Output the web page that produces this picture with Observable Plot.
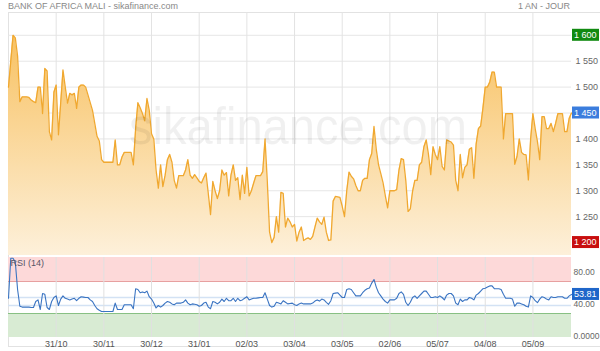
<!DOCTYPE html>
<html><head><meta charset="utf-8">
<script src="https://cdn.jsdelivr.net/npm/d3@7"></script>
<script src="https://cdn.jsdelivr.net/npm/@observablehq/plot@0.6"></script>
<style>
body{margin:0;background:#fff;font-family:"Liberation Sans",Arial,sans-serif;}
#wrap{position:relative;width:600px;height:351px;overflow:hidden;background:#fff;}
#title{position:absolute;left:8px;top:1px;font-size:9px;color:#888;}
#period{position:absolute;right:30px;top:1px;font-size:9px;color:#888;}
#frame{position:absolute;left:8px;top:12px;width:592px;height:335px;border-left:1px solid #e2e2e2;border-top:1px solid #e2e2e2;border-bottom:1px solid #e2e2e2;box-sizing:border-box;}
#price{position:absolute;left:0;top:0;}
#rsi{position:absolute;left:0;top:256px;}
</style></head><body>
<div id="wrap">
<div id="frame"></div>
<div id="price"></div><div id="rsi"></div>
<div id="title">BANK OF AFRICA MALI - sikafinance.com</div>
<div id="period">1 AN - JOUR</div>
</div>
<script>
// Daily closing prices (one per trading day, 249 days)
const prices = [1500,1550,1600,1595,1560,1472,1481,1481,1481,1480,
 1475,1472,1470,1500,1500,1449,1536,1531,1414,1398,
 1490,1504,1408,1470,1533,1500,1469,1488,1485,1488,
 1459,1500,1504,1504,1500,1485,1470,1455,1430,1405,
 1396,1360,1355,1355,1355,1355,1355,1398,1350,1350,
 1365,1374,1374,1374,1374,1350,1420,1470,1460,1449,
 1435,1478,1455,1410,1400,1340,1305,1350,1308,1330,
 1360,1370,1355,1320,1305,1329,1329,1329,1340,1360,
 1330,1324,1331,1325,1318,1315,1325,1334,1295,1254,
 1318,1300,1285,1300,1340,1330,1335,1290,1330,1350,
 1320,1325,1283,1330,1295,1345,1290,1300,1315,1329,
 1329,1329,1337,1400,1318,1220,1200,1210,1250,1220,
 1297,1295,1230,1247,1240,1230,1235,1203,1220,1230,
 1204,1207,1209,1206,1212,1230,1247,1240,1235,1249,
 1220,1204,1205,1280,1289,1288,1287,1270,1250,1300,
 1336,1328,1323,1310,1300,1300,1320,1324,1324,1360,
 1372,1424,1380,1350,1333,1315,1290,1267,1300,1300,
 1300,1302,1340,1362,1360,1320,1260,1265,1299,1320,
 1320,1350,1355,1385,1398,1370,1331,1385,1370,1360,
 1385,1347,1340,1398,1396,1394,1388,1320,1300,1370,
 1325,1345,1350,1380,1383,1324,1390,1420,1425,1460,
 1500,1500,1510,1529,1529,1500,1500,1500,1400,1449,
 1449,1449,1449,1351,1366,1400,1374,1370,1369,1321,
 1400,1449,1420,1395,1360,1443,1443,1420,1420,1430,
 1414,1430,1449,1449,1449,1414,1414,1440,1450];

// RSI (14) values, one per trading day
const rsiValues = [49,99,99,94,60,39,38,38,38,38,
 37.5,37.5,45,47,35,55,54,37.5,35,45,
 50,52,40,48,52,49,48,47,48,49,
 46,49,51,50.5,50,50,47,45,40,36,
 34,32.5,32.5,32.5,32.5,32.5,32.5,43,35,35,
 35,41,41,41,41,36,61,60,56,57,
 56,58,51,48,43,37,40,38,40,43,
 45,44,42,41,43,43,43,44,47,43,
 41,42,41.5,41,39,40,43,44,38,36,
 45,44,42,44,48,45,49,46,46,49,
 45,49,46,47,49,51,47,48,49,49,
 49.5,50,50,56,48,40,38,39,44,43,
 42,46,44,42,42.5,43,41,40,42,43,
 42,42,42,42,43,45.5,47,45.5,48,47,
 44,41.5,46,55,55.5,56,53,50,50,60,
 61,60,56,52,52,52,56,59,61,62,
 68,72.5,63,56,52,48,45,43,47,47,
 47,49,55,57,54,44,40,44,50,52,
 49,52,55,58,58,54,50,50,51,50,
 52,50,47,53,55,55,52,43,41,48,
 45,47,47,50,49,47,53,55,58,61,
 61.5,63,64.5,64.5,61,61,61,60,54,49,
 49,49,48,39,43,43,42,41,39,38,
 52,50,46,43.5,48,51,50,48,47,51,
 50,50,51,51,51,49,49,52,53.81];

// X-axis ticks (trading-day index) and their labels
const tickDays = [21,42,63,84,105,126,147,168,189,210,231];
const tickLabels = ["31/10","30/11","30/12","31/01","02/03","03/04","03/05","02/06","05/07","04/08","05/09"];

// Price axis
const priceGrid = [1200,1250,1300,1350,1400,1450,1500,1550,1600];
const priceDomain = [1175,1644];
// RSI axis
const rsiTicks = [0,40,80];
const rsiTickLabels = ["0.0000","40.00","80.00"];
const rsiOverbought = 70, rsiOversold = 30;
const rsiGuides = [40,50];

const N = prices.length;
const xDomain = [0, N - 1];
const xRange = [8, 571];
const data = prices.map((p, i) => ({d: i, p, r: rsiValues[i]}));

const fr = d3.formatLocale({decimal: ".", thousands: " ", grouping: [3], currency: ["", ""]});
const fmt = fr.format(",");

const last = prices[N - 1];
const badges = [
  {v: d3.max(prices), bg: "#118a11"},
  {v: last, bg: "#3b7ddd"},
  {v: d3.min(prices), bg: "#c80f0f"}
];
const badgeSet = new Set(badges.map(b => b.v));

function badgeMark(items, format) {
  return (index, scales, values, dims) => {
    const g = d3.create("svg:g").attr("text-anchor", "start");
    const x0 = dims.width - dims.marginRight + 1;
    for (const b of items) {
      const y = scales.y(b.v);
      g.append("rect").attr("x", x0).attr("y", y - 6).attr("width", 27).attr("height", 12).attr("fill", b.bg);
      g.append("text").attr("x", x0 + 2).attr("y", y).attr("dy", "0.35em")
        .attr("text-anchor", "start")
        .attr("fill", "#fff").attr("font-size", 9).attr("font-family", "Liberation Sans, Arial, sans-serif")
        .text(format(b.v));
    }
    return g.node();
  };
}

const gradDefs = () => {
  const defs = d3.create("svg:defs");
  const lg = defs.append("linearGradient").attr("id", "areaGrad").attr("x1", 0).attr("x2", 0).attr("y1", 0).attr("y2", 1);
  lg.append("stop").attr("offset", "0%").attr("stop-color", "#f8c263");
  lg.append("stop").attr("offset", "100%").attr("stop-color", "#fdf0da");
  return defs.node();
};

const watermark = () => {
  const t = d3.create("svg:text");
  t.attr("x", 298).attr("y", 144).attr("text-anchor", "middle")
   .attr("font-size", 52).attr("font-family", "Liberation Sans, Arial, sans-serif")
   .attr("fill", "#000").attr("fill-opacity", 0.06)
   .attr("textLength", 338).attr("lengthAdjust", "spacingAndGlyphs")
   .text("sikafinance.com");
  return t.node();
};

const pricePlot = Plot.plot({
  width: 600, height: 256,
  marginTop: 12, marginBottom: 1, marginLeft: 8, marginRight: 29,
  style: {fontSize: "9px", fontFamily: "Liberation Sans, Arial, sans-serif", color: "#666", background: "transparent", overflow: "visible"},
  x: {domain: xDomain, range: xRange, axis: null},
  y: {domain: priceDomain, range: [255, 12], axis: null},
  marks: [
    gradDefs,
    Plot.ruleY(priceGrid, {stroke: "#e6e6e6"}),
    Plot.ruleX(tickDays, {stroke: "#e3e3e3"}),
    Plot.areaY(data, {x: "d", y1: priceDomain[0], y2: "p", fill: "url(#areaGrad)"}),
    Plot.lineY(data, {x: "d", y: "p", stroke: "#f0a830", strokeWidth: 1.3}),
    watermark,
    Plot.axisY(priceGrid.filter(v => !badgeSet.has(v)), {anchor: "right", label: null, tickSize: 0, tickPadding: 4, tickFormat: fmt, fill: "#666", fontSize: 9}),
    badgeMark(badges, fmt)
  ]
});
document.getElementById("price").append(pricePlot);

const rsiPlot = Plot.plot({
  width: 600, height: 95,
  marginTop: 1, marginBottom: 14, marginLeft: 8, marginRight: 29,
  style: {fontSize: "9px", fontFamily: "Liberation Sans, Arial, sans-serif", color: "#666", background: "transparent", overflow: "visible"},
  x: {domain: xDomain, range: xRange},
  y: {domain: [0, 100], range: [81, 1], axis: null},
  marks: [
    Plot.rectY([{lo: rsiOverbought, hi: 100}], {y1: "lo", y2: "hi", fill: "#fdd9d9"}),
    Plot.rectY([{lo: 0, hi: rsiOversold}], {y1: "lo", y2: "hi", fill: "#d8ebd3"}),
    Plot.ruleY([rsiOverbought], {stroke: "#e7a0a0"}),
    Plot.ruleY([rsiOversold], {stroke: "#88c083"}),
    Plot.ruleY(rsiGuides, {stroke: "#d3e2f4", strokeWidth: 1.5}),
    Plot.ruleX(tickDays, {stroke: "#e0e0e0"}),
    Plot.lineY(data, {x: "d", y: "r", stroke: "#3a74c2", strokeWidth: 1.1}),
    Plot.text(["RSI (14)"], {frameAnchor: "top-left", dx: 2, dy: 2, fill: "#556", fontSize: 9, textAnchor: "start"}),
    Plot.axisX(tickDays, {label: null, tickSize: 0, tickPadding: 3, tickFormat: (d, i) => tickLabels[i], fill: "#555", fontSize: 9}),
    Plot.axisY(rsiTicks, {anchor: "right", label: null, tickSize: 0, tickPadding: 2, dy: -1, tickFormat: (d, i) => rsiTickLabels[i], fill: "#666", fontSize: 8.5}),
    badgeMark([{v: rsiValues[N - 1], bg: "#1f66c9"}], d3.format(".2f"))
  ]
});
document.getElementById("rsi").append(rsiPlot);
</script>
</body></html>
